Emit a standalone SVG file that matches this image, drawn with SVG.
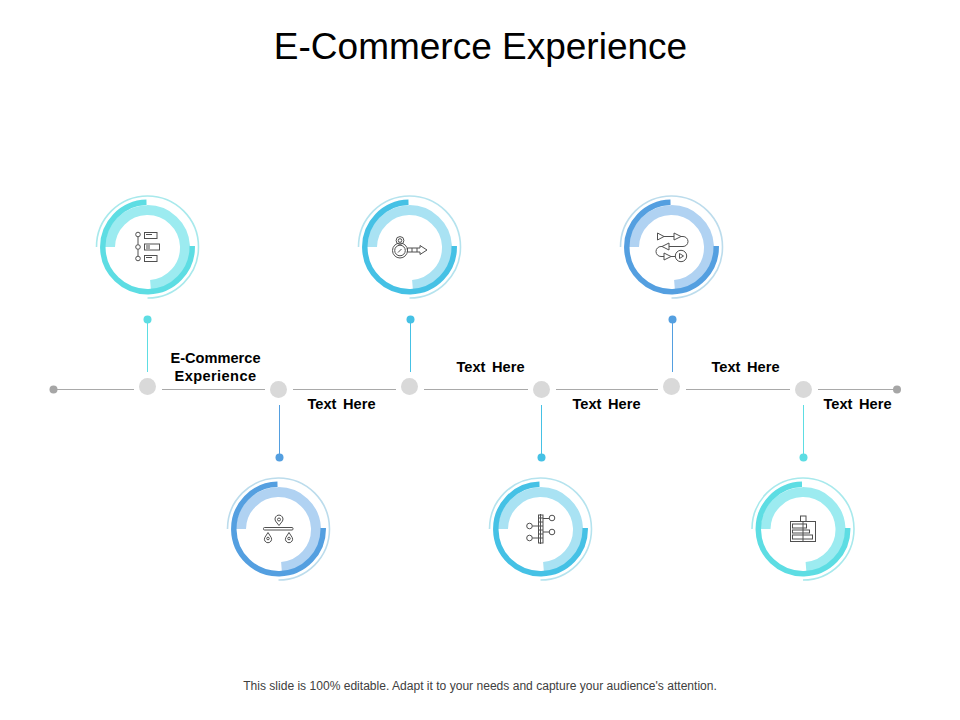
<svg xmlns="http://www.w3.org/2000/svg" width="960" height="720" viewBox="0 0 960 720">
<style>
text{font-family:"Liberation Sans",Arial,sans-serif;fill:#000;text-anchor:middle}
.title{font-size:37px}
.lab{font-size:14.6px;font-weight:700}
.tx{word-spacing:2.6px}
.exp{letter-spacing:.4px}
.foot{font-size:12.07px;fill:#404040}
.line{stroke:#a9a9a9;stroke-width:1;fill:none}
.hub{fill:#d9d9d9}
.end{fill:#a6a6a6}
.thin{fill:none;stroke-width:1.6;stroke:var(--t)}
.dark{fill:none;stroke-width:5.5;stroke:var(--d)}
.light{fill:none;stroke-width:10;stroke:var(--l)}
.teal{--t:#a8e9ec;--d:#5ddde3;--l:#9cebf0}
.sky{--t:#b5e3ee;--d:#45c1e5;--l:#a9e2f3}
.blue{--t:#bcdcec;--d:#549fe0;--l:#b0d2f2}
.stem{fill:none;stroke-width:1;stroke:var(--d)}
.pin{fill:var(--d)}
.ic{fill:none;stroke:#505050;stroke-width:1}
</style>
<defs>
<g id="ring">
<path class="thin" d="M-51 0A51 51 0 1 1 0 51"/>
<path class="light" d="M-37.500 0A37.500 37.500 0 1 1 3 38"/>
<path class="dark" d="M-1 -44.700A44.700 44.700 0 1 0 44.700 -1"/>
</g>
</defs>
<text class="title" x="480.500" y="59">E-Commerce Experience</text>
<g id="connectors">
<path class="line" d="M53 389.500H134M162 389.500H265M293 389.500H396M424 389.500H528M556 389.500H658M686 389.500H790M818 389.500H897"/>
<g class="teal"><path class="stem" d="M147.500 320V372M803.500 405V457"/><circle class="pin" cx="147.500" cy="319.500" r="4"/><circle class="pin" cx="803.500" cy="457.500" r="4"/></g>
<g class="sky"><path class="stem" d="M410.500 320V372M541.500 405V457"/><circle class="pin" cx="410.500" cy="319.500" r="4"/><circle class="pin" cx="541.500" cy="457.500" r="4"/></g>
<g class="blue"><path class="stem" d="M672.500 320V372M279.500 405V457"/><circle class="pin" cx="672.500" cy="319.500" r="4"/><circle class="pin" cx="279.500" cy="457.500" r="4"/></g>
<circle class="end" cx="53.500" cy="389.500" r="4"/>
<circle class="end" cx="897" cy="389.500" r="4"/>
</g>
<g id="hubs">
<circle class="hub" cx="147.500" cy="386.500" r="8.500"/>
<circle class="hub" cx="278.500" cy="389.500" r="8.500"/>
<circle class="hub" cx="409.500" cy="386.500" r="8.500"/>
<circle class="hub" cx="541.500" cy="389.500" r="8.500"/>
<circle class="hub" cx="671.500" cy="386.500" r="8.500"/>
<circle class="hub" cx="803.500" cy="389.500" r="8.500"/>
</g>
<g id="node1" class="teal">
<use href="#ring" transform="translate(147.500 247)"/>
<g class="ic">
<path d="M138 237V244.500M138 249.500V256"/>
<circle cx="138" cy="234.500" r="2.300"/><circle cx="138" cy="247" r="2.300"/><circle cx="138" cy="258.500" r="2.300"/>
<rect x="144.500" y="232.500" width="12.500" height="6"/><rect x="144.500" y="244" width="15" height="6"/><rect x="144.500" y="255.500" width="12.500" height="6"/>
<path d="M146 234.500H152M146 246H150M146 248H150M146 257.500H152"/>
</g>
</g>
<g id="node2" class="sky">
<use href="#ring" transform="translate(409.500 247)"/>
<g class="ic">
<circle cx="400" cy="250.500" r="7.500"/><circle cx="400" cy="250.500" r="5.300"/>
<circle cx="400" cy="240.500" r="3.900"/><circle cx="400" cy="240.500" r="1.800"/>
<path d="M398 252.500L401.500 249M407.500 248H420V245.500L427 250L420 254.500V252H407.500ZM412 248V252M417 248V252"/>
</g>
</g>
<g id="node3" class="blue">
<use href="#ring" transform="translate(671.500 247)"/>
<g class="ic">
<path d="M657.500 233L664 236.500L657.500 240ZM674 233L681 236.500L674 240ZM664 236.500H674M681 236.500H683A5 5 0 0 1 683 246.500H669M669 243L662 246.500L669 250ZM662 246.500H661A5 5 0 0 0 661 256.500H664M664 253L671 256.500L664 260ZM671 256.500H675"/>
<circle cx="681" cy="256" r="5.700"/><path d="M679.500 253.500L683.500 256L679.500 258.500Z"/>
</g>
</g>
<g id="node4" class="blue">
<use href="#ring" transform="translate(278.500 529)"/>
<g class="ic">
<rect x="263.500" y="527.500" width="29.500" height="2.500" rx="1"/>
<path d="M279 525.500L275.500 521A4 4 0 1 1 282.500 521Z"/><circle cx="279" cy="519.500" r="1.500"/>
<path d="M268 532.500L264.800 537.500A3.600 3.600 0 1 0 271.200 537.500Z"/><circle cx="268" cy="538.500" r="1.300"/>
<path d="M289 532.500L285.800 537.500A3.600 3.600 0 1 0 292.200 537.500Z"/><circle cx="289" cy="538.500" r="1.300"/>
</g>
</g>
<g id="node5" class="sky">
<use href="#ring" transform="translate(540.500 529)"/>
<g class="ic">
<rect x="538.500" y="515" width="4.500" height="28"/><path d="M540.500 514V544M538.500 518H543M538.500 522H543M538.500 526H543M538.500 530H543M538.500 534H543M538.500 538H543M543 518.500H549M538.500 526H532.500M543 532H549M538.500 538H532.500"/>
<circle cx="552" cy="518" r="2.800"/><circle cx="529.500" cy="526" r="2.800"/><circle cx="552" cy="532" r="2.800"/><circle cx="529.500" cy="538" r="2.800"/>
</g>
</g>
<g id="node6" class="teal">
<use href="#ring" transform="translate(803 529)"/>
<g class="ic">
<rect x="790.500" y="521.500" width="25" height="20"/><rect x="800.500" y="516" width="5.500" height="5.500"/>
<rect x="792.500" y="524" width="14" height="4"/><rect x="792.500" y="530" width="17" height="3"/><rect x="792.500" y="535" width="20" height="4"/>
<path d="M803 521.500V541.500"/>
</g>
</g>
<g id="labels">
<text class="lab" x="215.500" y="363">E-Commerce</text>
<text class="lab exp" x="215.500" y="381">Experience</text>
<text class="lab tx" x="341.500" y="408.500">Text Here</text>
<text class="lab tx" x="490.500" y="371.500">Text Here</text>
<text class="lab tx" x="606.500" y="408.500">Text Here</text>
<text class="lab tx" x="745.500" y="371.500">Text Here</text>
<text class="lab tx" x="857.500" y="408.500">Text Here</text>
</g>
<text class="foot" x="480" y="690">This slide is 100% editable. Adapt it to your needs and capture your audience's attention.</text>
</svg>
